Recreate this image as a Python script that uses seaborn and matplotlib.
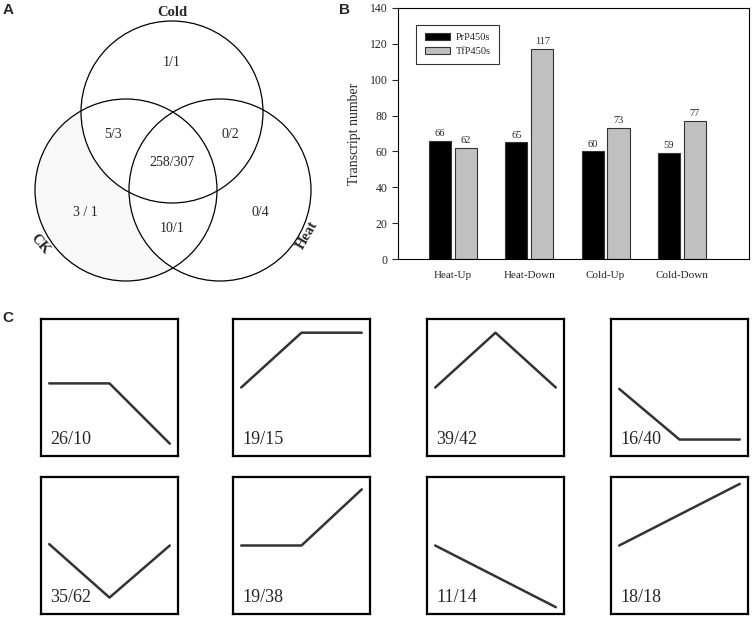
import matplotlib
matplotlib.use("Agg")
import matplotlib.pyplot as plt
import matplotlib.patches as mpatches
import seaborn as sns
import pandas as pd

sns.set_theme(style="white")
plt.rcParams['font.family'] = ['Liberation Serif', 'DejaVu Serif']

# ---- data ----
# panel A: venn counts (Pr/Tf)
venn_sets = ['Cold', 'CK', 'Heat']
venn_labels = ['1/1', '5/3', '0/2', '258/307', '3 / 1', '10/1', '0/4']

# panel B: transcript numbers
groups = ['Heat-Up', 'Heat-Down', 'Cold-Up', 'Cold-Down']
pr_counts = [66, 65, 60, 59]
tf_counts = [62, 117, 73, 77]
species = ['PrP450s', 'TfP450s']

# panel C: expression profiles (3 time points, relative level) and counts
profile_x = [0, 1, 2]
profiles = [
    [0.53, 0.53, 0.09],
    [0.50, 0.90, 0.90],
    [0.50, 0.90, 0.50],
    [0.49, 0.12, 0.12],
    [0.51, 0.12, 0.50],
    [0.50, 0.50, 0.91],
    [0.50, 0.275, 0.05],
    [0.50, 0.725, 0.95],
]
profile_counts = ['26/10', '19/15', '39/42', '16/40', '35/62', '19/38', '11/14', '18/18']

W, H = 752, 617
fig = plt.figure(figsize=(W / 100, H / 100), dpi=100)


def px_axes(x0, y0, w, h):
    # axes from pixel box (top-left origin)
    return fig.add_axes([x0 / W, 1 - (y0 + h) / H, w / W, h / H])


# ---- A: venn ----
axA = px_axes(0, 0, 340, 300)
axA.set_xlim(0, 340)
axA.set_ylim(300, 0)
axA.axis('off')
centers = {'Cold': (172, 112), 'CK': (126, 190), 'Heat': (220, 190)}
r = 91
fills = {'CK': '#f8f8f8', 'Cold': 'white', 'Heat': 'white'}
for name in ['CK', 'Cold', 'Heat']:
    axA.add_patch(mpatches.Circle(centers[name], r, facecolor=fills[name], edgecolor='none'))
for name in venn_sets:
    axA.add_patch(mpatches.Circle(centers[name], r, facecolor='none', edgecolor='black', lw=0.9))

label_pos = [(172, 63), (113, 135), (230, 135), (172, 163), (85, 212), (172, 228), (260, 212)]
for (x, y), t in zip(label_pos, venn_labels):
    axA.text(x, y, t, ha='center', va='center', fontsize=10)
axA.text(172, 12, 'Cold', ha='center', va='center', fontsize=10.5, fontweight='bold')
axA.text(40, 244, 'CK', ha='center', va='center', fontsize=10.5, fontweight='bold', rotation=-50)
axA.text(307, 235, 'Heat', ha='center', va='center', fontsize=10.5, fontweight='bold', rotation=60)

# ---- B: bars ----
df = pd.DataFrame({
    'group': groups * 2,
    'count': pr_counts + tf_counts,
    'species': [species[0]] * len(groups) + [species[1]] * len(groups),
})
axB = px_axes(398, 8, 351, 251)
sns.barplot(data=df, x='group', y='count', hue='species', ax=axB,
            palette=['black', '#c0c0c0'], width=0.68, gap=0.15,
            edgecolor='#333333', linewidth=0.8, saturation=1)
for cont in axB.containers:
    axB.bar_label(cont, fontsize=7.5, padding=2)
axB.set_ylim(0, 140)
axB.set_xlim(-0.72, 3.88)
axB.set_yticks(range(0, 141, 20))
axB.set_xlabel('')
axB.set_ylabel('Transcript number', fontsize=10, labelpad=6)
axB.tick_params(axis='y', direction='out', length=4, width=0.8, labelsize=8.5, left=True)
axB.tick_params(axis='x', length=0, labelsize=8, pad=9)
for s in axB.spines.values():
    s.set_color('black')
    s.set_linewidth(0.8)
leg = axB.legend(loc='upper left', bbox_to_anchor=(0.037, 0.955), fontsize=7.5,
                 handlelength=2.4, handleheight=0.65, handletextpad=0.6,
                 fancybox=False, borderpad=0.8, labelspacing=0.45)
leg.get_frame().set_edgecolor('black')
leg.get_frame().set_linewidth(0.8)

# ---- C: profiles ----
col_x = [41, 233, 427, 611]
row_y = [319, 477]
for i, (vals, lab) in enumerate(zip(profiles, profile_counts)):
    ax = px_axes(col_x[i % 4], row_y[i // 4], 137, 137)
    sns.lineplot(x=profile_x, y=vals, ax=ax, color='#333333', lw=1.8)
    ax.set_xlim(-0.136, 2.136)
    ax.set_ylim(0, 1)
    ax.set_xticks([])
    ax.set_yticks([])
    for s in ax.spines.values():
        s.set_color('black')
        s.set_linewidth(1.6)
    ax.text(0.07, 0.06, lab, transform=ax.transAxes, fontsize=13, ha='left', va='bottom')

# panel letters
for t, x, y in [('A', 8, 10), ('B', 344, 10), ('C', 8, 318)]:
    fig.text(x / W, 1 - y / H, t, fontsize=11, fontweight='bold',
             family='Liberation Sans', ha='center', va='center')

fig.savefig('out.png', dpi=100)
